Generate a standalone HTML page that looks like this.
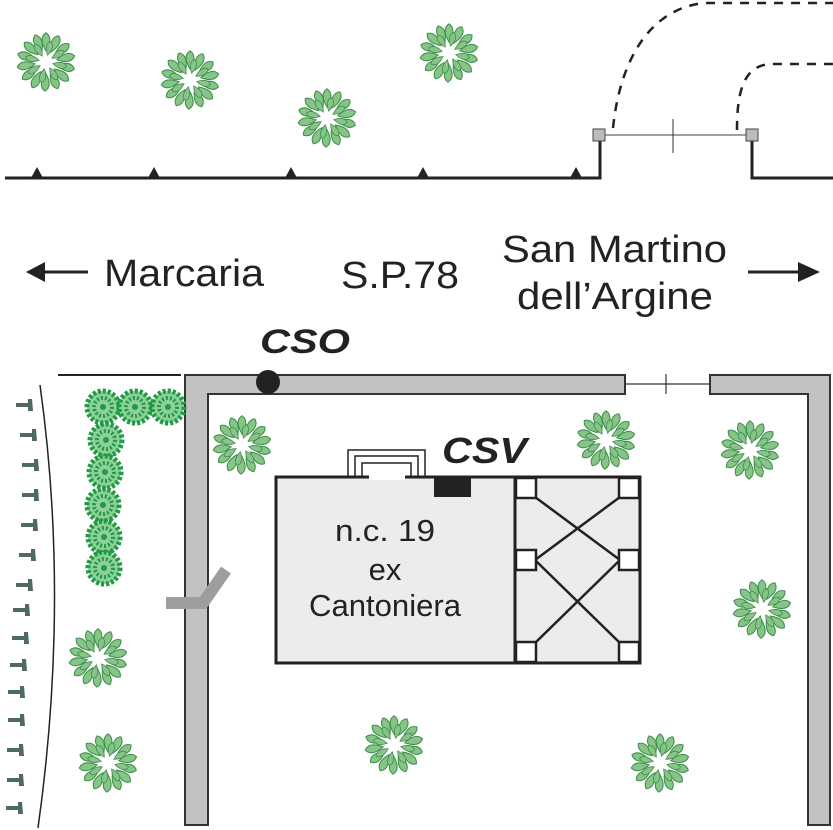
<!DOCTYPE html>
<html><head><meta charset="utf-8"><style>html,body{margin:0;padding:0;background:#fff}svg{display:block}</style></head>
<body>
<svg width="833" height="830" viewBox="0 0 833 830" xmlns="http://www.w3.org/2000/svg" font-family="Liberation Sans, sans-serif">
<defs>
<g id="lf"><path d="M0,-4 Q6,0 0,10 Q-6,0 0,-4Z"/></g>
<g id="tree" fill="#86c586" stroke="#3f8f4f" stroke-width="0.8">
<use href="#lf" transform="rotate(0) translate(0,-24) scale(1.3)"/>
<use href="#lf" transform="rotate(26) translate(0,-24) scale(1.3)"/>
<use href="#lf" transform="rotate(52) translate(0,-24) scale(1.3)"/>
<use href="#lf" transform="rotate(78) translate(0,-24) scale(1.3)"/>
<use href="#lf" transform="rotate(104) translate(0,-24) scale(1.3)"/>
<use href="#lf" transform="rotate(130) translate(0,-24) scale(1.3)"/>
<use href="#lf" transform="rotate(156) translate(0,-24) scale(1.3)"/>
<use href="#lf" transform="rotate(182) translate(0,-24) scale(1.3)"/>
<use href="#lf" transform="rotate(208) translate(0,-24) scale(1.3)"/>
<use href="#lf" transform="rotate(234) translate(0,-24) scale(1.3)"/>
<use href="#lf" transform="rotate(260) translate(0,-24) scale(1.3)"/>
<use href="#lf" transform="rotate(286) translate(0,-24) scale(1.3)"/>
<use href="#lf" transform="rotate(312) translate(0,-24) scale(1.3)"/>
<use href="#lf" transform="rotate(338) translate(0,-24) scale(1.3)"/>
<use href="#lf" transform="rotate(13) translate(0,-17)"/>
<use href="#lf" transform="rotate(58) translate(0,-17)"/>
<use href="#lf" transform="rotate(103) translate(0,-17)"/>
<use href="#lf" transform="rotate(148) translate(0,-17)"/>
<use href="#lf" transform="rotate(193) translate(0,-17)"/>
<use href="#lf" transform="rotate(238) translate(0,-17)"/>
<use href="#lf" transform="rotate(283) translate(0,-17)"/>
<use href="#lf" transform="rotate(328) translate(0,-17)"/>
</g>
<g id="bush">
<circle r="16" fill="#8fd09a"/>
<circle r="16" fill="none" stroke="#1f9a45" stroke-width="5" stroke-dasharray="3 2"/>
<circle r="9" fill="none" stroke="#1f9a45" stroke-width="4" stroke-dasharray="2 2"/>
<circle r="3" fill="#1f9a45"/>
</g>
<g id="peg" fill="#4f6a60"><rect x="-12" y="-2" width="14" height="4"/><path d="M0,-6 L4,-6 L5,6 L0,6Z"/></g>
</defs>

<polyline points="5,178 600,178 600,134" fill="none" stroke="#222" stroke-width="3"/>
<polyline points="752,134 752,178 833,178" fill="none" stroke="#222" stroke-width="3"/>
<line x1="604" y1="135" x2="746" y2="135" stroke="#666" stroke-width="1.2"/>
<line x1="673" y1="119" x2="673" y2="153" stroke="#333" stroke-width="1"/>
<rect x="593" y="129" width="12" height="12" fill="#bbb" stroke="#444"/>
<rect x="746" y="129" width="12" height="12" fill="#bbb" stroke="#444"/>
<path d="M613,128 C620,60 650,8 705,3 L833,3" fill="none" stroke="#222" stroke-width="2.5" stroke-dasharray="9 8"/>
<path d="M737,130 C737,95 742,66 770,64 L833,64" fill="none" stroke="#222" stroke-width="2.5" stroke-dasharray="9 8"/>
<g fill="#222">
<path d="M31,178 L37,167 L43,178Z"/><path d="M148,178 L154,167 L160,178Z"/><path d="M285,178 L291,167 L297,178Z"/><path d="M417,178 L423,167 L429,178Z"/><path d="M570,178 L576,167 L582,178Z"/>
</g>

<g fill="#222" font-size="38">
<text x="104" y="286" textLength="160" lengthAdjust="spacingAndGlyphs">Marcaria</text>
<text x="341" y="288" textLength="118" lengthAdjust="spacingAndGlyphs">S.P.78</text>
<text x="502" y="262" textLength="225" lengthAdjust="spacingAndGlyphs">San Martino</text>
<text x="517" y="309" textLength="196" lengthAdjust="spacingAndGlyphs">dell’Argine</text>
</g>
<line x1="40" y1="272" x2="88" y2="272" stroke="#222" stroke-width="3"/>
<path d="M26,272 L45,262 L45,282Z" fill="#222"/>
<line x1="748" y1="272" x2="800" y2="272" stroke="#222" stroke-width="3"/>
<path d="M820,272 L798,262 L798,282Z" fill="#222"/>
<text x="260" y="353" font-size="34" font-weight="bold" font-style="italic" fill="#222" textLength="90" lengthAdjust="spacingAndGlyphs">CSO</text>

<path d="M185,825 L185,375 L625,375 L625,394 L208,394 L208,825Z" fill="#c2c2c2" stroke="#333" stroke-width="2"/>
<path d="M710,375 L830,375 L830,825 L808,825 L808,394 L710,394Z" fill="#c2c2c2" stroke="#333" stroke-width="2"/>
<line x1="625" y1="384" x2="710" y2="384" stroke="#333" stroke-width="1.2"/>
<line x1="666" y1="374" x2="666" y2="394" stroke="#333" stroke-width="1.2"/>
<circle cx="268" cy="382" r="12" fill="#222"/>
<line x1="58" y1="375" x2="181" y2="375" stroke="#222" stroke-width="2"/>
<path d="M166,603 L203,603 L226,570" fill="none" stroke="#9e9e9e" stroke-width="12"/>

<path d="M40,385 Q70,600 38,828" fill="none" stroke="#222" stroke-width="1.5"/>
<g>
<use href="#peg" transform="translate(28,405)"/><use href="#peg" transform="translate(32,435)"/><use href="#peg" transform="translate(34,465)"/><use href="#peg" transform="translate(34,495)"/><use href="#peg" transform="translate(33,525)"/><use href="#peg" transform="translate(31,555)"/><use href="#peg" transform="translate(28,585)"/><use href="#peg" transform="translate(25,610)"/><use href="#peg" transform="translate(24,638)"/><use href="#peg" transform="translate(22,665)"/><use href="#peg" transform="translate(20,692)"/><use href="#peg" transform="translate(20,720)"/><use href="#peg" transform="translate(19,750)"/><use href="#peg" transform="translate(19,780)"/><use href="#peg" transform="translate(18,808)"/>
</g>

<use href="#bush" transform="translate(103,407)"/><use href="#bush" transform="translate(135,407)"/><use href="#bush" transform="translate(168,407)"/>
<use href="#bush" transform="translate(106,440)"/><use href="#bush" transform="translate(105,472)"/><use href="#bush" transform="translate(103,505)"/><use href="#bush" transform="translate(104,537)"/><use href="#bush" transform="translate(104,568)"/>

<use href="#tree" transform="translate(46,62)"/><use href="#tree" transform="translate(190,80)"/><use href="#tree" transform="translate(327,118)"/><use href="#tree" transform="translate(449,53)"/>
<use href="#tree" transform="translate(242,445)"/><use href="#tree" transform="translate(606,440)"/><use href="#tree" transform="translate(750,450)"/><use href="#tree" transform="translate(762,609)"/>
<use href="#tree" transform="translate(98,658)"/><use href="#tree" transform="translate(108,763)"/><use href="#tree" transform="translate(394,745)"/><use href="#tree" transform="translate(660,763)"/>

<rect x="276" y="477" width="364" height="186" fill="#ececec" stroke="#222" stroke-width="3"/>
<line x1="515" y1="477" x2="515" y2="663" stroke="#222" stroke-width="3"/>
<g stroke="#222" stroke-width="2.5" fill="none">
<line x1="535" y1="497" x2="620" y2="560"/><line x1="620" y1="497" x2="535" y2="560"/>
<line x1="535" y1="560" x2="620" y2="643"/><line x1="620" y1="560" x2="535" y2="643"/>
</g>
<g fill="#fff" stroke="#222" stroke-width="2.5">
<rect x="516" y="478" width="20" height="20"/><rect x="619" y="478" width="20" height="20"/>
<rect x="516" y="550" width="20" height="20"/><rect x="619" y="550" width="20" height="20"/>
<rect x="516" y="642" width="20" height="20"/><rect x="619" y="642" width="20" height="20"/>
</g>
<g fill="none" stroke="#222" stroke-width="1.5">
<path d="M348,477 L348,450 L425,450 L425,477"/>
<path d="M355,477 L355,456 L418,456 L418,477"/>
<path d="M362,477 L362,463 L411,463 L411,477"/>
</g>
<rect x="369" y="474" width="36" height="6" fill="#fff"/>
<rect x="434" y="478" width="37" height="19" fill="#222"/>
<text x="442" y="463" font-size="36" font-weight="bold" font-style="italic" fill="#222" textLength="85" lengthAdjust="spacingAndGlyphs">CSV</text>
<g fill="#222" font-size="31" text-anchor="middle">
<text x="385" y="541" textLength="100" lengthAdjust="spacingAndGlyphs">n.c. 19</text>
<text x="385" y="580">ex</text>
<text x="385" y="616" textLength="152" lengthAdjust="spacingAndGlyphs">Cantoniera</text>
</g>
</svg>
</body></html>
